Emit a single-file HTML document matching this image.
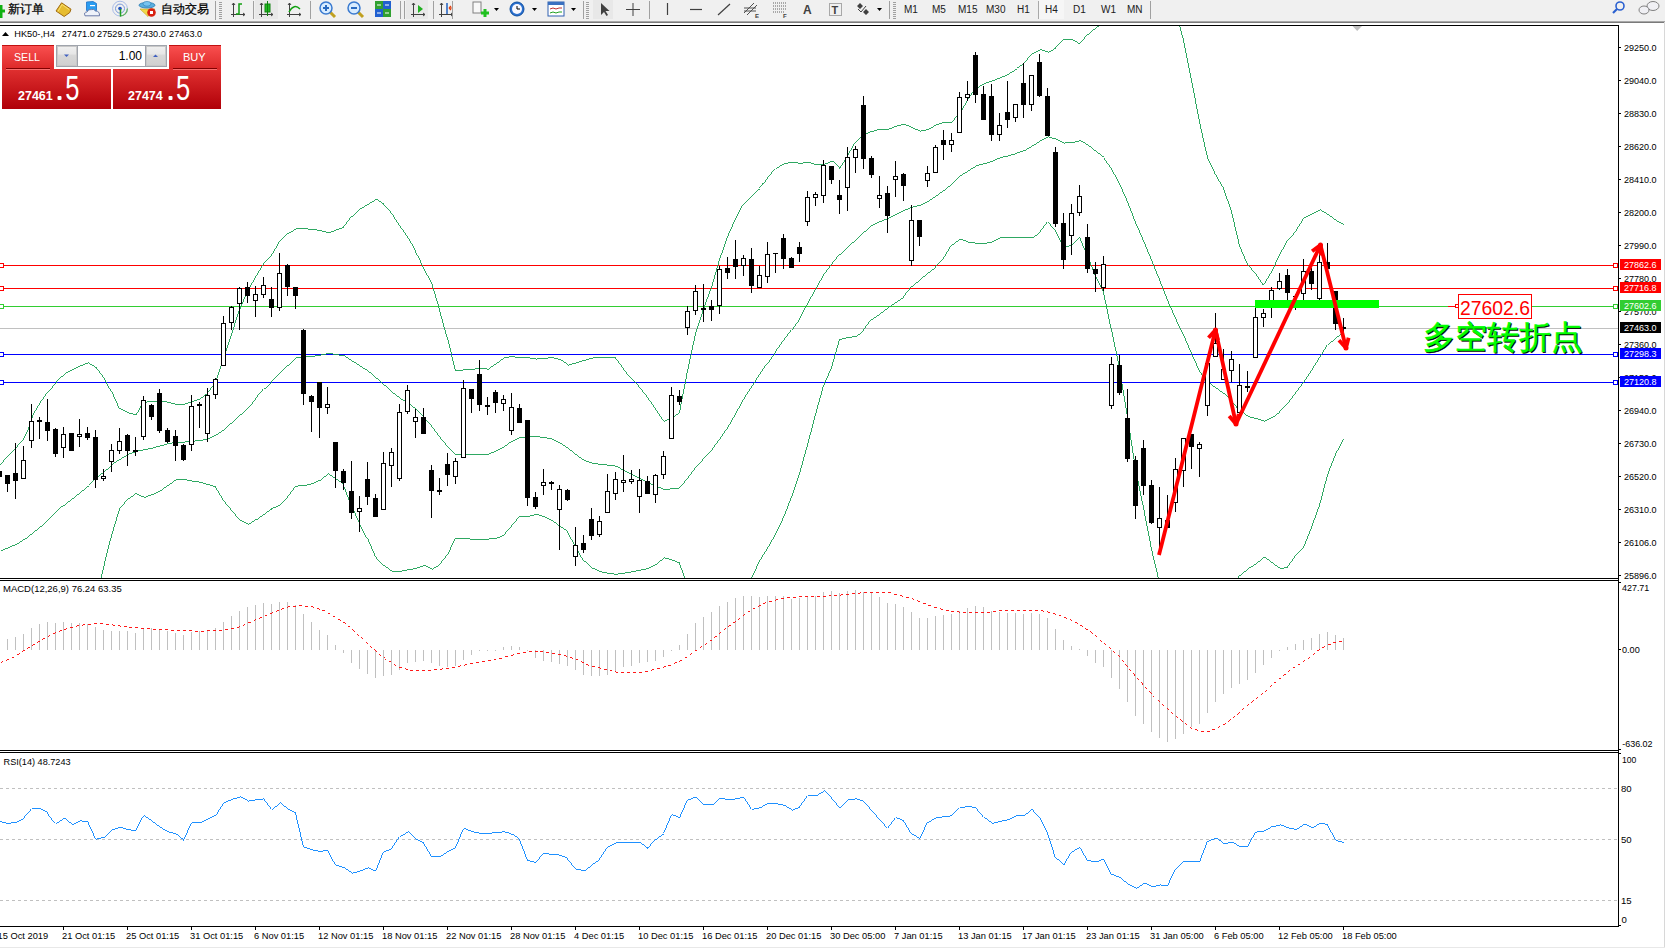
<!DOCTYPE html><html><head><meta charset="utf-8"><style>html,body{margin:0;padding:0;width:1665px;height:948px;overflow:hidden;background:#fff;font-family:"Liberation Sans",sans-serif}</style></head><body><svg width="1665" height="948" viewBox="0 0 1665 948" style="position:absolute;left:0;top:0" font-family="'Liberation Sans', sans-serif">
<rect x="0" y="0" width="1665" height="948" fill="#ffffff"/>
<rect x="0" y="0" width="1665" height="21" fill="#f0f0f0"/>
<rect x="0" y="21" width="1665" height="1" fill="#a8a8a8"/>
<rect x="0" y="22" width="1665" height="1" fill="#7a7a7a"/>
<g><path d="M-3 11h8M1 5v13" stroke="#10b010" stroke-width="3"/><text x="8" y="12.5" font-size="12" fill="#000" stroke="#000" stroke-width="0.25">新订单</text><path d="M56 11 L61.6 2.8 L71 9.2 L69.8 12.5 L64.2 16.5 Z" fill="#e6bc30" stroke="#a06a10" stroke-width="1"/><path d="M58 11.5 L62 4.5 L69 9.5" fill="none" stroke="#f8e070" stroke-width="1"/><path d="M86.5 2 L93 1.5 L96.5 3.5 L96.5 10.5 L86.5 10.5 Z" fill="#2a9cf0" stroke="#1a70c8" stroke-width="0.8"/><rect x="90" y="5" width="5" height="1.2" fill="#fff"/><path d="M85 15.8 Q83.5 12 87 12 Q88 8.8 91.5 9.6 Q94 8.6 95.5 11 Q99.8 11 99.5 15.8 Z" fill="#eef2fa" stroke="#6a7aa8" stroke-width="1"/><circle cx="120" cy="8.6" r="7.4" fill="none" stroke="#a8bce8" stroke-width="1"/><circle cx="120" cy="8.6" r="4.5" fill="none" stroke="#7898d8" stroke-width="1"/><path d="M127.4 8.6 A7.4 7.4 0 0 1 120 16" fill="none" stroke="#60b060" stroke-width="1.2"/><circle cx="120" cy="8.6" r="1.8" fill="#2050c0"/><path d="M120.5 9v7.5" stroke="#20a020" stroke-width="1.5"/><path d="M140 9 L155 9 L148 16.5 Z" fill="#f0d848" stroke="#c0a020" stroke-width="0.6"/><ellipse cx="147" cy="5.2" rx="8" ry="2.8" fill="#5cb0e0" stroke="#2a7ab0" stroke-width="0.8"/><ellipse cx="147" cy="3.8" rx="4" ry="2.4" fill="#78c4f0" stroke="#2a7ab0" stroke-width="0.6"/><circle cx="151.5" cy="12.5" r="4.3" fill="#d82010"/><rect x="150" y="11" width="3" height="3" fill="#fff"/><text x="161" y="12.5" font-size="12" fill="#000" stroke="#000" stroke-width="0.25">自动交易</text><rect x="215" y="1" width="1" height="19" fill="#a0a0a0"/><rect x="219" y="2" width="3" height="1" fill="#a0a0a0"/><rect x="219" y="4" width="3" height="1" fill="#a0a0a0"/><rect x="219" y="6" width="3" height="1" fill="#a0a0a0"/><rect x="219" y="8" width="3" height="1" fill="#a0a0a0"/><rect x="219" y="10" width="3" height="1" fill="#a0a0a0"/><rect x="219" y="12" width="3" height="1" fill="#a0a0a0"/><rect x="219" y="14" width="3" height="1" fill="#a0a0a0"/><rect x="219" y="16" width="3" height="1" fill="#a0a0a0"/><rect x="219" y="18" width="3" height="1" fill="#a0a0a0"/><path d="M233.5 3v14M231 14.5h14M232 5l1.5-2 1.5 2M243 13l2 1.5-2 1.5" fill="none" stroke="#404040" stroke-width="1"/><path d="M236 14h3v-10h3" fill="none" stroke="#10a010" stroke-width="1.5"/><rect x="253" y="1" width="1" height="18" fill="#a0a0a0"/><rect x="255" y="0" width="23" height="19" fill="#e8e8e8"/><path d="M261.5 3v14M259 14.5h14M260 5l1.5-2 1.5 2M271 13l2 1.5-2 1.5" fill="none" stroke="#404040" stroke-width="1"/><rect x="265" y="4" width="5" height="8" fill="#20c020" stroke="#108010"/><path d="M267.5 1v15" stroke="#108010"/><path d="M289.5 3v14M287 14.5h14M288 5l1.5-2 1.5 2M299 13l2 1.5-2 1.5" fill="none" stroke="#404040" stroke-width="1"/><path d="M289 12 Q294 3 300 9" fill="none" stroke="#10a010" stroke-width="1.5"/><rect x="310" y="1" width="1" height="18" fill="#a0a0a0"/><path d="M329 11 l6 6" stroke="#c0a020" stroke-width="3"/><circle cx="326" cy="8" r="6" fill="#d8ecff" stroke="#3a7ad0" stroke-width="1.5"/><path d="M323 8h6" stroke="#2a6ac0" stroke-width="2"/><path d="M326 5v6" stroke="#2a6ac0" stroke-width="2"/><path d="M357 11 l6 6" stroke="#c0a020" stroke-width="3"/><circle cx="354" cy="8" r="6" fill="#d8ecff" stroke="#3a7ad0" stroke-width="1.5"/><path d="M351 8h6" stroke="#2a6ac0" stroke-width="2"/><rect x="375" y="1" width="8" height="8" fill="#30a030"/><rect x="383" y="1" width="8" height="8" fill="#2060d0"/><rect x="375" y="9" width="8" height="8" fill="#2060d0"/><rect x="383" y="9" width="8" height="8" fill="#30a030"/><path d="M377 5h4M385 5h4M377 13h4M385 13h4" stroke="#fff" stroke-width="1"/><rect x="400" y="1" width="1" height="18" fill="#a0a0a0"/><rect x="404" y="1" width="1" height="18" fill="#a0a0a0"/><rect x="406" y="0" width="22" height="19" fill="#e8e8e8"/><path d="M413.5 3v14M411 14.5h14M412 5l1.5-2 1.5 2M423 13l2 1.5-2 1.5" fill="none" stroke="#404040" stroke-width="1"/><path d="M418 5v8l5-4z" fill="#20b020"/><rect x="433" y="1" width="1" height="18" fill="#a0a0a0"/><path d="M441.5 3v14M439 14.5h14M440 5l1.5-2 1.5 2M451 13l2 1.5-2 1.5" fill="none" stroke="#404040" stroke-width="1"/><path d="M447 3v11" stroke="#2060c0" stroke-width="1.5"/><path d="M449 8h4M449 8l2-2M449 8l2 2" stroke="#e04010" stroke-width="1.2"/><rect x="452" y="1" width="1" height="18" fill="#a0a0a0"/><rect x="473" y="2" width="8" height="11" fill="#f8f8f8" stroke="#808080"/><path d="M481 13h8M485 9v8" stroke="#20c020" stroke-width="3"/><path d="M494 8h5l-2.5 3z" fill="#000"/><circle cx="517" cy="9" r="7" fill="#2a70d0" stroke="#1050a0"/><circle cx="517" cy="9" r="5" fill="#f8f8ff"/><path d="M517 6v3h3" stroke="#000" stroke-width="1" fill="none"/><path d="M532 8h5l-2.5 3z" fill="#000"/><rect x="548" y="2" width="16" height="14" fill="#fff" stroke="#3060b0"/><rect x="548" y="2" width="16" height="3" fill="#3a70c0"/><path d="M550 9l3-1 3 1 3-1 3 0" stroke="#c03030" fill="none"/><path d="M550 13l3-1 3 1 3-1 3 0" stroke="#20a020" fill="none"/><path d="M571 8h5l-2.5 3z" fill="#000"/><rect x="583" y="1" width="1" height="18" fill="#a0a0a0"/><rect x="586" y="2" width="3" height="1" fill="#a0a0a0"/><rect x="586" y="4" width="3" height="1" fill="#a0a0a0"/><rect x="586" y="6" width="3" height="1" fill="#a0a0a0"/><rect x="586" y="8" width="3" height="1" fill="#a0a0a0"/><rect x="586" y="10" width="3" height="1" fill="#a0a0a0"/><rect x="586" y="12" width="3" height="1" fill="#a0a0a0"/><rect x="586" y="14" width="3" height="1" fill="#a0a0a0"/><rect x="586" y="16" width="3" height="1" fill="#a0a0a0"/><rect x="586" y="18" width="3" height="1" fill="#a0a0a0"/><rect x="593" y="0" width="20" height="19" fill="#e8e8e8"/><path d="M601 3v12l3-3 2.5 4 1.5-1-2.5-4h4z" fill="#404040"/><path d="M626 9.5h14M633 3v13" stroke="#404040" stroke-width="1"/><rect x="649" y="1" width="1" height="18" fill="#a0a0a0"/><path d="M667.5 3v12" stroke="#404040" stroke-width="1.2"/><path d="M690 9.5h12" stroke="#404040" stroke-width="1.2"/><path d="M718 15l12-11" stroke="#404040" stroke-width="1.2"/><path d="M744 13l10-10M747 15l10-10M744 8h12M744 11h12" stroke="#505050" stroke-width="1"/><text x="755" y="18" font-size="6" font-weight="bold" fill="#404040">E</text><path d="M773 3h14M773 6h14M773 9h14M773 12h11" stroke="#606060" stroke-width="1" stroke-dasharray="1 1"/><text x="783" y="18" font-size="6" font-weight="bold" fill="#404040">F</text><text x="803" y="14" font-size="12" font-weight="bold" fill="#404040">A</text><rect x="829.5" y="3.5" width="12" height="12" fill="none" stroke="#606060" stroke-dasharray="1 1"/><text x="831.5" y="14" font-size="11" font-weight="bold" fill="#404040">T</text><path d="M857 6l3-3 3 3-3 3zM863 12l3-3 3 3-3 3z" fill="#404040"/><path d="M858 9l3 3 5-6" stroke="#404040" fill="none"/><path d="M877 8h5l-2.5 3z" fill="#000"/><rect x="889" y="1" width="1" height="18" fill="#a0a0a0"/><rect x="893" y="2" width="3" height="1" fill="#a0a0a0"/><rect x="893" y="4" width="3" height="1" fill="#a0a0a0"/><rect x="893" y="6" width="3" height="1" fill="#a0a0a0"/><rect x="893" y="8" width="3" height="1" fill="#a0a0a0"/><rect x="893" y="10" width="3" height="1" fill="#a0a0a0"/><rect x="893" y="12" width="3" height="1" fill="#a0a0a0"/><rect x="893" y="14" width="3" height="1" fill="#a0a0a0"/><rect x="893" y="16" width="3" height="1" fill="#a0a0a0"/><rect x="893" y="18" width="3" height="1" fill="#a0a0a0"/><rect x="1039" y="0" width="25" height="19" fill="#f6f6f6"/><text x="904" y="13" font-size="10" fill="#202020">M1</text><text x="932" y="13" font-size="10" fill="#202020">M5</text><text x="958" y="13" font-size="10" fill="#202020">M15</text><text x="986" y="13" font-size="10" fill="#202020">M30</text><text x="1017" y="13" font-size="10" fill="#202020">H1</text><text x="1045" y="13" font-size="10" fill="#202020">H4</text><text x="1073" y="13" font-size="10" fill="#202020">D1</text><text x="1101" y="13" font-size="10" fill="#202020">W1</text><text x="1127" y="13" font-size="10" fill="#202020">MN</text><rect x="1038" y="1" width="1" height="18" fill="#a8a8a8"/><rect x="1150" y="1" width="1" height="18" fill="#a0a0a0"/><circle cx="1620" cy="6" r="4" fill="none" stroke="#2a60d0" stroke-width="1.6"/><path d="M1617 9l-4 4" stroke="#2a60d0" stroke-width="2.2"/><ellipse cx="1653" cy="6" rx="6" ry="4.5" fill="#f0f0f4" stroke="#808080"/><ellipse cx="1644" cy="10" rx="5" ry="4" fill="#f0f0f4" stroke="#808080"/></g>
<g shape-rendering="crispEdges">
<rect x="0" y="25" width="1619" height="1" fill="#000"/>
<rect x="1618" y="25" width="1" height="902" fill="#000"/>
<rect x="0" y="578" width="1619" height="1" fill="#000"/>
<rect x="0" y="580" width="1619" height="1" fill="#000"/>
<rect x="0" y="750" width="1619" height="1" fill="#000"/>
<rect x="0" y="752" width="1619" height="1" fill="#000"/>
<rect x="0" y="926" width="1619" height="1" fill="#000"/>
<rect x="1664" y="22" width="1" height="926" fill="#d8d8d8"/>
<rect x="0" y="947" width="1665" height="1" fill="#e8e8e8"/>
</g>
<defs><clipPath id="cm"><rect x="0" y="26" width="1618" height="552"/></clipPath>
<clipPath id="cmacd"><rect x="0" y="581" width="1618" height="169"/></clipPath>
<clipPath id="crsi"><rect x="0" y="753" width="1618" height="173"/></clipPath></defs>
<g clip-path="url(#cm)">
<g shape-rendering="crispEdges">
<rect x="0" y="265" width="1618" height="1" fill="#ff0000"/>
<rect x="-0.5" y="263.5" width="4" height="4" fill="#fff" stroke="#ff0000" stroke-width="1"/>
<rect x="1613.5" y="263.5" width="4" height="4" fill="#fff" stroke="#ff0000" stroke-width="1"/>
<rect x="0" y="288" width="1618" height="1" fill="#ff0000"/>
<rect x="-0.5" y="286.5" width="4" height="4" fill="#fff" stroke="#ff0000" stroke-width="1"/>
<rect x="1613.5" y="286.5" width="4" height="4" fill="#fff" stroke="#ff0000" stroke-width="1"/>
<rect x="0" y="306" width="1618" height="1" fill="#32cd32"/>
<rect x="-0.5" y="304.5" width="4" height="4" fill="#fff" stroke="#32cd32" stroke-width="1"/>
<rect x="1613.5" y="304.5" width="4" height="4" fill="#fff" stroke="#32cd32" stroke-width="1"/>
<rect x="0" y="328" width="1618" height="1" fill="#c0c0c0"/>
<rect x="0" y="354" width="1618" height="1" fill="#0000ff"/>
<rect x="-0.5" y="352.5" width="4" height="4" fill="#fff" stroke="#0000ff" stroke-width="1"/>
<rect x="1613.5" y="352.5" width="4" height="4" fill="#fff" stroke="#0000ff" stroke-width="1"/>
<rect x="0" y="382" width="1618" height="1" fill="#0000ff"/>
<rect x="-0.5" y="380.5" width="4" height="4" fill="#fff" stroke="#0000ff" stroke-width="1"/>
<rect x="1613.5" y="380.5" width="4" height="4" fill="#fff" stroke="#0000ff" stroke-width="1"/>
</g>
<polyline points="0.5,464.5 8.1,455.7 15.7,448.1 23.3,439.2 28.3,429.1 33.5,413.9 41.0,401.3 48.5,391.1 58.5,378.5 66.5,372.1 76.5,367.1 87.5,362.8 96.5,368.3 104.5,378.5 111.5,391.1 119.5,408.9 127.0,412.7 135.9,414.5 142.3,402.5 151.5,401.6 159.5,400.8 167.5,402.4 175.5,404.3 183.5,404.3 191.5,401.5 199.5,398.7 207.5,392.7 215.5,382.8 223.5,358.2 231.5,334.2 239.5,309.7 247.5,291.3 255.5,277.2 263.5,263.7 271.5,255.2 279.5,241.6 287.5,233.4 295.5,228.7 303.5,228.8 311.5,229.3 319.5,230.5 327.5,232.9 335.5,229.9 343.5,226.9 351.5,216.4 359.5,208.8 367.5,204.1 375.5,199.3 383.5,204.4 391.5,213.1 399.5,225.6 407.5,236.7 415.5,250.5 423.5,268.2 431.5,282.8 439.5,309.5 447.5,338.1 455.5,370.9 463.5,369.8 471.5,369.2 479.5,368.6 487.5,369.1 495.5,363.4 503.5,357.9 511.5,356.6 519.5,357.9 527.5,357.8 535.5,359.1 543.5,358.3 551.5,357.6 559.5,359.6 567.5,365.0 575.5,362.8 583.5,360.3 591.5,358.0 599.5,357.0 607.5,357.3 615.5,358.0 623.5,368.5 631.5,378.0 639.5,387.2 647.5,397.4 655.5,409.0 663.5,421.1 671.5,417.4 679.5,412.1 687.5,370.9 695.5,333.9 703.5,308.9 711.5,287.4 719.5,259.7 727.5,236.9 735.5,218.8 743.5,203.6 751.5,195.7 759.5,188.1 767.5,177.5 775.5,168.6 783.5,163.4 791.5,162.4 799.5,163.3 807.5,162.4 815.5,164.8 823.5,164.4 831.5,161.0 839.5,168.9 847.5,155.8 855.5,141.9 863.5,134.1 871.5,131.3 879.5,129.1 887.5,129.4 895.5,126.0 903.5,124.1 911.5,127.9 919.5,131.0 927.5,129.5 935.5,124.8 943.5,122.1 951.5,122.7 959.5,112.9 967.5,99.5 975.5,88.3 983.5,83.6 991.5,80.8 999.5,77.8 1007.5,74.3 1015.5,69.1 1023.5,64.0 1031.5,53.9 1039.5,49.6 1047.5,52.3 1055.5,47.9 1063.5,39.2 1071.5,39.9 1079.5,44.1 1087.5,34.4 1095.5,27.3 1103.5,24.0 1111.5,8.0 1119.5,-0.8 1127.5,-13.4 1135.5,-24.4 1143.5,-26.5 1151.5,-29.1 1159.5,-23.4 1167.5,-12.1 1175.5,11.3 1183.5,40.0 1191.5,80.2 1199.5,122.0 1207.5,157.7 1215.5,174.6 1223.5,188.1 1231.5,211.9 1239.5,245.7 1247.5,264.4 1255.5,273.7 1263.5,285.3 1271.5,272.0 1279.5,255.1 1287.5,240.2 1295.5,230.5 1303.5,217.5 1311.5,213.6 1319.5,209.9 1327.5,214.6 1335.5,220.5 1343.5,224.6" fill="none" stroke="#179e51" stroke-width="0.9" shape-rendering="crispEdges"/>
<polyline points="0.5,550.5 15.5,544.3 25.5,538.0 38.5,527.8 51.1,516.5 63.5,505.1 76.5,494.9 89.1,484.8 101.5,473.4 114.5,462.0 127.1,454.5 139.5,450.5 151.5,448.1 159.5,445.8 167.5,443.7 175.5,442.0 183.5,442.0 191.5,441.2 199.5,440.5 207.5,438.7 215.5,434.9 223.5,429.4 231.5,422.2 239.5,414.9 247.5,407.8 255.5,398.5 263.5,388.9 271.5,381.8 279.5,373.4 287.5,365.2 295.5,357.4 303.5,357.1 311.5,356.4 319.5,355.2 327.5,353.3 335.5,354.6 343.5,355.7 351.5,361.0 359.5,366.1 367.5,371.2 375.5,378.1 383.5,385.1 391.5,392.3 399.5,398.5 407.5,403.2 415.5,409.4 423.5,416.9 431.5,426.0 439.5,436.9 447.5,446.4 455.5,454.6 463.5,454.3 471.5,454.1 479.5,454.0 487.5,454.1 495.5,450.8 503.5,446.6 511.5,441.4 519.5,437.1 527.5,437.1 535.5,436.6 543.5,437.6 551.5,439.2 559.5,443.1 567.5,448.5 575.5,454.9 583.5,460.7 591.5,463.0 599.5,464.4 607.5,465.2 615.5,466.2 623.5,470.8 631.5,474.8 639.5,478.6 647.5,482.9 655.5,486.6 663.5,489.4 671.5,488.8 679.5,487.8 687.5,478.4 695.5,467.6 703.5,458.9 711.5,450.2 719.5,439.3 727.5,427.9 735.5,414.0 743.5,399.4 751.5,386.9 759.5,374.6 767.5,362.8 775.5,351.5 783.5,340.4 791.5,329.8 799.5,318.5 807.5,303.6 815.5,289.6 823.5,275.1 831.5,264.3 839.5,254.2 847.5,246.5 855.5,239.4 863.5,231.9 871.5,225.1 879.5,221.4 887.5,218.5 895.5,214.0 903.5,210.4 911.5,207.1 919.5,205.2 927.5,201.2 935.5,195.8 943.5,190.1 951.5,183.8 959.5,175.9 967.5,170.8 975.5,165.8 983.5,163.6 991.5,161.3 999.5,157.6 1007.5,155.8 1015.5,153.5 1023.5,150.8 1031.5,145.9 1039.5,140.9 1047.5,136.9 1055.5,139.3 1063.5,143.0 1071.5,142.7 1079.5,140.6 1087.5,145.4 1095.5,151.7 1103.5,157.7 1111.5,168.9 1119.5,183.7 1127.5,201.9 1135.5,222.4 1143.5,240.7 1151.5,260.1 1159.5,279.7 1167.5,300.1 1175.5,318.4 1183.5,335.0 1191.5,353.6 1199.5,371.0 1207.5,382.4 1215.5,388.3 1223.5,393.8 1231.5,401.1 1239.5,410.6 1247.5,416.5 1255.5,418.7 1263.5,421.1 1271.5,417.4 1279.5,411.9 1287.5,403.6 1295.5,393.1 1303.5,382.4 1311.5,370.4 1319.5,357.6 1327.5,344.7 1335.5,337.4 1343.5,331.9" fill="none" stroke="#179e51" stroke-width="0.9" shape-rendering="crispEdges"/>
<polyline points="100.5,580.5 109.4,543.0 119.5,508.9 127.1,500.0 135.9,493.7 144.8,497.5 151.5,494.7 159.5,490.8 167.5,485.1 175.5,479.6 183.5,479.6 191.5,481.0 199.5,482.2 207.5,484.7 215.5,487.0 223.5,500.6 231.5,510.1 239.5,520.1 247.5,524.2 255.5,519.8 263.5,514.1 271.5,508.3 279.5,505.2 287.5,497.0 295.5,486.1 303.5,485.5 311.5,483.5 319.5,480.0 327.5,473.8 335.5,479.2 343.5,484.5 351.5,505.6 359.5,523.5 367.5,538.3 375.5,556.9 383.5,565.7 391.5,571.6 399.5,571.4 407.5,569.8 415.5,568.3 423.5,565.5 431.5,569.2 439.5,564.4 447.5,554.6 455.5,538.3 463.5,538.8 471.5,539.1 479.5,539.3 487.5,539.1 495.5,538.1 503.5,535.3 511.5,526.1 519.5,516.2 527.5,516.5 535.5,514.2 543.5,516.9 551.5,520.8 559.5,526.5 567.5,532.0 575.5,547.1 583.5,561.1 591.5,568.0 599.5,571.8 607.5,573.2 615.5,574.3 623.5,573.1 631.5,571.7 639.5,570.0 647.5,568.5 655.5,564.1 663.5,557.7 671.5,560.2 679.5,563.4 687.5,585.9 695.5,601.3 703.5,609.0 711.5,613.1 719.5,618.8 727.5,618.9 735.5,609.2 743.5,595.3 751.5,578.1 759.5,561.2 767.5,548.1 775.5,534.4 783.5,517.4 791.5,497.2 799.5,473.6 807.5,444.9 815.5,414.4 823.5,385.7 831.5,367.6 839.5,339.4 847.5,337.2 855.5,336.8 863.5,329.6 871.5,319.0 879.5,313.7 887.5,307.7 895.5,302.0 903.5,296.7 911.5,286.4 919.5,279.4 927.5,272.8 935.5,266.8 943.5,258.1 951.5,244.9 959.5,239.0 967.5,242.1 975.5,243.3 983.5,243.6 991.5,241.8 999.5,237.5 1007.5,237.2 1015.5,237.9 1023.5,237.7 1031.5,237.8 1039.5,232.3 1047.5,221.6 1055.5,230.7 1063.5,246.8 1071.5,245.4 1079.5,237.2 1087.5,256.3 1095.5,276.1 1103.5,291.5 1111.5,329.8 1119.5,368.2 1127.5,417.2 1135.5,469.2 1143.5,507.9 1151.5,549.2 1159.5,582.8 1167.5,612.3 1175.5,625.4 1183.5,630.0 1191.5,626.9 1199.5,619.9 1207.5,607.0 1215.5,602.0 1223.5,599.5 1231.5,590.4 1239.5,575.4 1247.5,568.6 1255.5,563.6 1263.5,557.0 1271.5,562.9 1279.5,568.7 1287.5,566.9 1295.5,555.7 1303.5,547.3 1311.5,527.3 1319.5,505.4 1327.5,474.8 1335.5,454.3 1343.5,439.2" fill="none" stroke="#179e51" stroke-width="0.9" shape-rendering="crispEdges"/>
<g shape-rendering="crispEdges">
<rect x="-1" y="471" width="1" height="6" fill="#000"/>
<rect x="-3" y="471" width="5" height="6" fill="#000"/>
<rect x="7" y="475" width="1" height="17" fill="#000"/>
<rect x="5" y="475" width="5" height="9" fill="#000"/>
<rect x="15" y="443" width="1" height="56" fill="#000"/>
<rect x="13" y="473" width="5" height="8" fill="#000"/>
<rect x="23" y="446" width="1" height="33" fill="#000"/>
<rect x="21.5" y="460.5" width="4" height="18" fill="#fff" stroke="#000" stroke-width="1"/>
<rect x="31" y="404" width="1" height="44" fill="#000"/>
<rect x="29.5" y="421.5" width="4" height="19" fill="#fff" stroke="#000" stroke-width="1"/>
<rect x="39" y="417" width="1" height="22" fill="#000"/>
<rect x="37" y="420" width="5" height="2" fill="#000"/>
<rect x="47" y="399" width="1" height="42" fill="#000"/>
<rect x="45" y="422" width="5" height="9" fill="#000"/>
<rect x="55" y="428" width="1" height="29" fill="#000"/>
<rect x="53" y="429" width="5" height="25" fill="#000"/>
<rect x="63" y="427" width="1" height="31" fill="#000"/>
<rect x="61.5" y="434.5" width="4" height="13" fill="#fff" stroke="#000" stroke-width="1"/>
<rect x="71" y="433" width="1" height="18" fill="#000"/>
<rect x="69" y="433" width="5" height="18" fill="#000"/>
<rect x="79" y="419" width="1" height="28" fill="#000"/>
<rect x="77.5" y="434.5" width="4" height="2" fill="#fff" stroke="#000" stroke-width="1"/>
<rect x="87" y="427" width="1" height="13" fill="#000"/>
<rect x="85" y="433" width="5" height="5" fill="#000"/>
<rect x="95" y="430" width="1" height="58" fill="#000"/>
<rect x="93" y="437" width="5" height="43" fill="#000"/>
<rect x="103" y="469" width="1" height="12" fill="#000"/>
<rect x="101.5" y="476.5" width="4" height="2" fill="#fff" stroke="#000" stroke-width="1"/>
<rect x="111" y="444" width="1" height="28" fill="#000"/>
<rect x="109.5" y="450.5" width="4" height="11" fill="#fff" stroke="#000" stroke-width="1"/>
<rect x="119" y="428" width="1" height="26" fill="#000"/>
<rect x="117.5" y="441.5" width="4" height="9" fill="#fff" stroke="#000" stroke-width="1"/>
<rect x="127" y="434" width="1" height="32" fill="#000"/>
<rect x="125" y="435" width="5" height="16" fill="#000"/>
<rect x="135" y="437" width="1" height="19" fill="#000"/>
<rect x="133" y="450" width="5" height="2" fill="#000"/>
<rect x="143" y="396" width="1" height="44" fill="#000"/>
<rect x="141.5" y="400.5" width="4" height="36" fill="#fff" stroke="#000" stroke-width="1"/>
<rect x="151" y="404" width="1" height="16" fill="#000"/>
<rect x="149" y="405" width="5" height="12" fill="#000"/>
<rect x="159" y="389" width="1" height="44" fill="#000"/>
<rect x="157" y="393" width="5" height="38" fill="#000"/>
<rect x="167" y="428" width="1" height="15" fill="#000"/>
<rect x="165" y="430" width="5" height="12" fill="#000"/>
<rect x="175" y="430" width="1" height="31" fill="#000"/>
<rect x="173" y="436" width="5" height="10" fill="#000"/>
<rect x="183" y="444" width="1" height="17" fill="#000"/>
<rect x="181" y="445" width="5" height="15" fill="#000"/>
<rect x="191" y="395" width="1" height="56" fill="#000"/>
<rect x="189.5" y="406.5" width="4" height="38" fill="#fff" stroke="#000" stroke-width="1"/>
<rect x="199" y="402" width="1" height="26" fill="#000"/>
<rect x="197" y="404" width="5" height="2" fill="#000"/>
<rect x="207" y="388" width="1" height="54" fill="#000"/>
<rect x="205.5" y="395.5" width="4" height="38" fill="#fff" stroke="#000" stroke-width="1"/>
<rect x="215" y="378" width="1" height="21" fill="#000"/>
<rect x="213.5" y="379.5" width="4" height="15" fill="#fff" stroke="#000" stroke-width="1"/>
<rect x="223" y="316" width="1" height="50" fill="#000"/>
<rect x="221.5" y="323.5" width="4" height="42" fill="#fff" stroke="#000" stroke-width="1"/>
<rect x="231" y="306" width="1" height="24" fill="#000"/>
<rect x="229.5" y="307.5" width="4" height="15" fill="#fff" stroke="#000" stroke-width="1"/>
<rect x="239" y="287" width="1" height="43" fill="#000"/>
<rect x="237.5" y="288.5" width="4" height="15" fill="#fff" stroke="#000" stroke-width="1"/>
<rect x="247" y="282" width="1" height="21" fill="#000"/>
<rect x="245" y="287" width="5" height="9" fill="#000"/>
<rect x="255" y="286" width="1" height="31" fill="#000"/>
<rect x="253.5" y="294.5" width="4" height="6" fill="#fff" stroke="#000" stroke-width="1"/>
<rect x="263" y="277" width="1" height="21" fill="#000"/>
<rect x="261.5" y="285.5" width="4" height="9" fill="#fff" stroke="#000" stroke-width="1"/>
<rect x="271" y="287" width="1" height="30" fill="#000"/>
<rect x="269" y="299" width="5" height="9" fill="#000"/>
<rect x="279" y="253" width="1" height="58" fill="#000"/>
<rect x="277.5" y="273.5" width="4" height="34" fill="#fff" stroke="#000" stroke-width="1"/>
<rect x="287" y="264" width="1" height="32" fill="#000"/>
<rect x="285" y="265" width="5" height="22" fill="#000"/>
<rect x="295" y="287" width="1" height="22" fill="#000"/>
<rect x="293" y="287" width="5" height="9" fill="#000"/>
<rect x="303" y="329" width="1" height="76" fill="#000"/>
<rect x="301" y="330" width="5" height="64" fill="#000"/>
<rect x="311" y="395" width="1" height="37" fill="#000"/>
<rect x="309" y="396" width="5" height="6" fill="#000"/>
<rect x="319" y="382" width="1" height="56" fill="#000"/>
<rect x="317" y="382" width="5" height="26" fill="#000"/>
<rect x="327" y="387" width="1" height="27" fill="#000"/>
<rect x="325.5" y="404.5" width="4" height="3" fill="#fff" stroke="#000" stroke-width="1"/>
<rect x="335" y="442" width="1" height="46" fill="#000"/>
<rect x="333" y="442" width="5" height="29" fill="#000"/>
<rect x="343" y="469" width="1" height="21" fill="#000"/>
<rect x="341" y="471" width="5" height="12" fill="#000"/>
<rect x="351" y="461" width="1" height="58" fill="#000"/>
<rect x="349" y="491" width="5" height="22" fill="#000"/>
<rect x="359" y="496" width="1" height="36" fill="#000"/>
<rect x="357.5" y="508.5" width="4" height="3" fill="#fff" stroke="#000" stroke-width="1"/>
<rect x="367" y="462" width="1" height="43" fill="#000"/>
<rect x="365" y="479" width="5" height="18" fill="#000"/>
<rect x="375" y="494" width="1" height="23" fill="#000"/>
<rect x="373" y="498" width="5" height="19" fill="#000"/>
<rect x="383" y="452" width="1" height="58" fill="#000"/>
<rect x="381.5" y="463.5" width="4" height="46" fill="#fff" stroke="#000" stroke-width="1"/>
<rect x="391" y="448" width="1" height="39" fill="#000"/>
<rect x="389.5" y="452.5" width="4" height="13" fill="#fff" stroke="#000" stroke-width="1"/>
<rect x="399" y="404" width="1" height="77" fill="#000"/>
<rect x="397.5" y="412.5" width="4" height="66" fill="#fff" stroke="#000" stroke-width="1"/>
<rect x="407" y="385" width="1" height="29" fill="#000"/>
<rect x="405.5" y="390.5" width="4" height="21" fill="#fff" stroke="#000" stroke-width="1"/>
<rect x="415" y="409" width="1" height="29" fill="#000"/>
<rect x="413.5" y="417.5" width="4" height="4" fill="#fff" stroke="#000" stroke-width="1"/>
<rect x="423" y="408" width="1" height="26" fill="#000"/>
<rect x="421" y="417" width="5" height="17" fill="#000"/>
<rect x="431" y="465" width="1" height="53" fill="#000"/>
<rect x="429" y="470" width="5" height="21" fill="#000"/>
<rect x="439" y="478" width="1" height="17" fill="#000"/>
<rect x="437" y="490" width="5" height="2" fill="#000"/>
<rect x="447" y="453" width="1" height="33" fill="#000"/>
<rect x="445" y="464" width="5" height="11" fill="#000"/>
<rect x="455" y="458" width="1" height="26" fill="#000"/>
<rect x="453.5" y="461.5" width="4" height="15" fill="#fff" stroke="#000" stroke-width="1"/>
<rect x="463" y="380" width="1" height="78" fill="#000"/>
<rect x="461.5" y="388.5" width="4" height="69" fill="#fff" stroke="#000" stroke-width="1"/>
<rect x="471" y="389" width="1" height="24" fill="#000"/>
<rect x="469" y="389" width="5" height="10" fill="#000"/>
<rect x="479" y="360" width="1" height="51" fill="#000"/>
<rect x="477" y="374" width="5" height="31" fill="#000"/>
<rect x="487" y="397" width="1" height="18" fill="#000"/>
<rect x="485" y="405" width="5" height="2" fill="#000"/>
<rect x="495" y="390" width="1" height="23" fill="#000"/>
<rect x="493" y="392" width="5" height="11" fill="#000"/>
<rect x="503" y="395" width="1" height="16" fill="#000"/>
<rect x="501.5" y="399.5" width="4" height="4" fill="#fff" stroke="#000" stroke-width="1"/>
<rect x="511" y="393" width="1" height="42" fill="#000"/>
<rect x="509.5" y="407.5" width="4" height="23" fill="#fff" stroke="#000" stroke-width="1"/>
<rect x="519" y="404" width="1" height="19" fill="#000"/>
<rect x="517" y="408" width="5" height="15" fill="#000"/>
<rect x="527" y="420" width="1" height="86" fill="#000"/>
<rect x="525" y="420" width="5" height="78" fill="#000"/>
<rect x="535" y="492" width="1" height="17" fill="#000"/>
<rect x="533" y="497" width="5" height="10" fill="#000"/>
<rect x="543" y="469" width="1" height="26" fill="#000"/>
<rect x="541.5" y="482.5" width="4" height="3" fill="#fff" stroke="#000" stroke-width="1"/>
<rect x="551" y="481" width="1" height="9" fill="#000"/>
<rect x="549" y="482" width="5" height="2" fill="#000"/>
<rect x="559" y="485" width="1" height="65" fill="#000"/>
<rect x="557.5" y="489.5" width="4" height="20" fill="#fff" stroke="#000" stroke-width="1"/>
<rect x="567" y="489" width="1" height="12" fill="#000"/>
<rect x="565" y="490" width="5" height="10" fill="#000"/>
<rect x="575" y="527" width="1" height="39" fill="#000"/>
<rect x="573.5" y="545.5" width="4" height="11" fill="#fff" stroke="#000" stroke-width="1"/>
<rect x="583" y="535" width="1" height="18" fill="#000"/>
<rect x="581" y="543" width="5" height="7" fill="#000"/>
<rect x="591" y="508" width="1" height="32" fill="#000"/>
<rect x="589" y="519" width="5" height="17" fill="#000"/>
<rect x="599" y="516" width="1" height="21" fill="#000"/>
<rect x="597.5" y="521.5" width="4" height="13" fill="#fff" stroke="#000" stroke-width="1"/>
<rect x="607" y="474" width="1" height="39" fill="#000"/>
<rect x="605.5" y="491.5" width="4" height="21" fill="#fff" stroke="#000" stroke-width="1"/>
<rect x="615" y="472" width="1" height="28" fill="#000"/>
<rect x="613.5" y="479.5" width="4" height="14" fill="#fff" stroke="#000" stroke-width="1"/>
<rect x="623" y="455" width="1" height="37" fill="#000"/>
<rect x="621.5" y="480.5" width="4" height="2" fill="#fff" stroke="#000" stroke-width="1"/>
<rect x="631" y="470" width="1" height="14" fill="#000"/>
<rect x="629.5" y="479.5" width="4" height="2" fill="#fff" stroke="#000" stroke-width="1"/>
<rect x="639" y="469" width="1" height="44" fill="#000"/>
<rect x="637.5" y="480.5" width="4" height="16" fill="#fff" stroke="#000" stroke-width="1"/>
<rect x="647" y="476" width="1" height="18" fill="#000"/>
<rect x="645" y="481" width="5" height="13" fill="#000"/>
<rect x="655" y="474" width="1" height="29" fill="#000"/>
<rect x="653.5" y="475.5" width="4" height="19" fill="#fff" stroke="#000" stroke-width="1"/>
<rect x="663" y="451" width="1" height="28" fill="#000"/>
<rect x="661.5" y="456.5" width="4" height="18" fill="#fff" stroke="#000" stroke-width="1"/>
<rect x="671" y="387" width="1" height="52" fill="#000"/>
<rect x="669.5" y="395.5" width="4" height="43" fill="#fff" stroke="#000" stroke-width="1"/>
<rect x="679" y="390" width="1" height="15" fill="#000"/>
<rect x="677" y="396" width="5" height="6" fill="#000"/>
<rect x="687" y="306" width="1" height="29" fill="#000"/>
<rect x="685.5" y="311.5" width="4" height="16" fill="#fff" stroke="#000" stroke-width="1"/>
<rect x="695" y="285" width="1" height="30" fill="#000"/>
<rect x="693.5" y="291.5" width="4" height="19" fill="#fff" stroke="#000" stroke-width="1"/>
<rect x="703" y="284" width="1" height="38" fill="#000"/>
<rect x="701" y="308" width="5" height="2" fill="#000"/>
<rect x="711" y="300" width="1" height="21" fill="#000"/>
<rect x="709" y="306" width="5" height="4" fill="#000"/>
<rect x="719" y="266" width="1" height="48" fill="#000"/>
<rect x="717.5" y="269.5" width="4" height="36" fill="#fff" stroke="#000" stroke-width="1"/>
<rect x="727" y="257" width="1" height="22" fill="#000"/>
<rect x="725" y="268" width="5" height="5" fill="#000"/>
<rect x="735" y="240" width="1" height="39" fill="#000"/>
<rect x="733" y="259" width="5" height="8" fill="#000"/>
<rect x="743" y="255" width="1" height="21" fill="#000"/>
<rect x="741.5" y="258.5" width="4" height="7" fill="#fff" stroke="#000" stroke-width="1"/>
<rect x="751" y="248" width="1" height="45" fill="#000"/>
<rect x="749" y="259" width="5" height="27" fill="#000"/>
<rect x="759" y="266" width="1" height="22" fill="#000"/>
<rect x="757.5" y="275.5" width="4" height="12" fill="#fff" stroke="#000" stroke-width="1"/>
<rect x="767" y="242" width="1" height="41" fill="#000"/>
<rect x="765.5" y="254.5" width="4" height="22" fill="#fff" stroke="#000" stroke-width="1"/>
<rect x="775" y="253" width="1" height="20" fill="#000"/>
<rect x="773" y="253" width="5" height="1" fill="#000"/>
<rect x="783" y="234" width="1" height="35" fill="#000"/>
<rect x="781" y="238" width="5" height="21" fill="#000"/>
<rect x="791" y="257" width="1" height="11" fill="#000"/>
<rect x="789" y="258" width="5" height="10" fill="#000"/>
<rect x="799" y="242" width="1" height="20" fill="#000"/>
<rect x="797" y="247" width="5" height="7" fill="#000"/>
<rect x="807" y="191" width="1" height="35" fill="#000"/>
<rect x="805.5" y="197.5" width="4" height="24" fill="#fff" stroke="#000" stroke-width="1"/>
<rect x="815" y="192" width="1" height="14" fill="#000"/>
<rect x="813.5" y="194.5" width="4" height="3" fill="#fff" stroke="#000" stroke-width="1"/>
<rect x="823" y="160" width="1" height="43" fill="#000"/>
<rect x="821.5" y="165.5" width="4" height="30" fill="#fff" stroke="#000" stroke-width="1"/>
<rect x="831" y="166" width="1" height="18" fill="#000"/>
<rect x="829" y="166" width="5" height="14" fill="#000"/>
<rect x="839" y="180" width="1" height="34" fill="#000"/>
<rect x="837" y="195" width="5" height="5" fill="#000"/>
<rect x="847" y="147" width="1" height="64" fill="#000"/>
<rect x="845.5" y="157.5" width="4" height="30" fill="#fff" stroke="#000" stroke-width="1"/>
<rect x="855" y="146" width="1" height="27" fill="#000"/>
<rect x="853.5" y="149.5" width="4" height="8" fill="#fff" stroke="#000" stroke-width="1"/>
<rect x="863" y="96" width="1" height="73" fill="#000"/>
<rect x="861" y="105" width="5" height="54" fill="#000"/>
<rect x="871" y="156" width="1" height="22" fill="#000"/>
<rect x="869" y="158" width="5" height="17" fill="#000"/>
<rect x="879" y="176" width="1" height="32" fill="#000"/>
<rect x="877.5" y="195.5" width="4" height="3" fill="#fff" stroke="#000" stroke-width="1"/>
<rect x="887" y="186" width="1" height="47" fill="#000"/>
<rect x="885" y="193" width="5" height="23" fill="#000"/>
<rect x="895" y="161" width="1" height="36" fill="#000"/>
<rect x="893.5" y="176.5" width="4" height="3" fill="#fff" stroke="#000" stroke-width="1"/>
<rect x="903" y="173" width="1" height="28" fill="#000"/>
<rect x="901" y="174" width="5" height="12" fill="#000"/>
<rect x="911" y="205" width="1" height="61" fill="#000"/>
<rect x="909.5" y="220.5" width="4" height="40" fill="#fff" stroke="#000" stroke-width="1"/>
<rect x="919" y="220" width="1" height="26" fill="#000"/>
<rect x="917" y="220" width="5" height="17" fill="#000"/>
<rect x="927" y="166" width="1" height="21" fill="#000"/>
<rect x="925.5" y="173.5" width="4" height="7" fill="#fff" stroke="#000" stroke-width="1"/>
<rect x="935" y="145" width="1" height="28" fill="#000"/>
<rect x="933.5" y="147.5" width="4" height="25" fill="#fff" stroke="#000" stroke-width="1"/>
<rect x="943" y="130" width="1" height="30" fill="#000"/>
<rect x="941" y="140" width="5" height="5" fill="#000"/>
<rect x="951" y="133" width="1" height="19" fill="#000"/>
<rect x="949.5" y="140.5" width="4" height="4" fill="#fff" stroke="#000" stroke-width="1"/>
<rect x="959" y="92" width="1" height="41" fill="#000"/>
<rect x="957.5" y="97.5" width="4" height="35" fill="#fff" stroke="#000" stroke-width="1"/>
<rect x="967" y="81" width="1" height="20" fill="#000"/>
<rect x="965.5" y="94.5" width="4" height="3" fill="#fff" stroke="#000" stroke-width="1"/>
<rect x="975" y="52" width="1" height="51" fill="#000"/>
<rect x="973" y="55" width="5" height="40" fill="#000"/>
<rect x="983" y="86" width="1" height="34" fill="#000"/>
<rect x="981" y="94" width="5" height="26" fill="#000"/>
<rect x="991" y="84" width="1" height="57" fill="#000"/>
<rect x="989" y="96" width="5" height="39" fill="#000"/>
<rect x="999" y="113" width="1" height="28" fill="#000"/>
<rect x="997.5" y="125.5" width="4" height="9" fill="#fff" stroke="#000" stroke-width="1"/>
<rect x="1007" y="81" width="1" height="47" fill="#000"/>
<rect x="1005" y="112" width="5" height="8" fill="#000"/>
<rect x="1015" y="104" width="1" height="18" fill="#000"/>
<rect x="1013.5" y="104.5" width="4" height="13" fill="#fff" stroke="#000" stroke-width="1"/>
<rect x="1023" y="63" width="1" height="55" fill="#000"/>
<rect x="1021" y="83" width="5" height="22" fill="#000"/>
<rect x="1031" y="75" width="1" height="36" fill="#000"/>
<rect x="1029.5" y="75.5" width="4" height="29" fill="#fff" stroke="#000" stroke-width="1"/>
<rect x="1039" y="54" width="1" height="43" fill="#000"/>
<rect x="1037" y="62" width="5" height="34" fill="#000"/>
<rect x="1047" y="88" width="1" height="48" fill="#000"/>
<rect x="1045" y="96" width="5" height="40" fill="#000"/>
<rect x="1055" y="147" width="1" height="80" fill="#000"/>
<rect x="1053" y="152" width="5" height="72" fill="#000"/>
<rect x="1063" y="213" width="1" height="56" fill="#000"/>
<rect x="1061" y="223" width="5" height="37" fill="#000"/>
<rect x="1071" y="204" width="1" height="51" fill="#000"/>
<rect x="1069.5" y="213.5" width="4" height="22" fill="#fff" stroke="#000" stroke-width="1"/>
<rect x="1079" y="185" width="1" height="31" fill="#000"/>
<rect x="1077.5" y="196.5" width="4" height="16" fill="#fff" stroke="#000" stroke-width="1"/>
<rect x="1087" y="224" width="1" height="49" fill="#000"/>
<rect x="1085" y="237" width="5" height="32" fill="#000"/>
<rect x="1095" y="262" width="1" height="30" fill="#000"/>
<rect x="1093" y="269" width="5" height="5" fill="#000"/>
<rect x="1103" y="256" width="1" height="35" fill="#000"/>
<rect x="1101.5" y="264.5" width="4" height="23" fill="#fff" stroke="#000" stroke-width="1"/>
<rect x="1111" y="357" width="1" height="52" fill="#000"/>
<rect x="1109.5" y="364.5" width="4" height="41" fill="#fff" stroke="#000" stroke-width="1"/>
<rect x="1119" y="355" width="1" height="40" fill="#000"/>
<rect x="1117" y="365" width="5" height="28" fill="#000"/>
<rect x="1127" y="389" width="1" height="73" fill="#000"/>
<rect x="1125" y="418" width="5" height="41" fill="#000"/>
<rect x="1135" y="456" width="1" height="63" fill="#000"/>
<rect x="1133" y="460" width="5" height="46" fill="#000"/>
<rect x="1143" y="440" width="1" height="55" fill="#000"/>
<rect x="1141" y="448" width="5" height="38" fill="#000"/>
<rect x="1151" y="480" width="1" height="44" fill="#000"/>
<rect x="1149" y="485" width="5" height="38" fill="#000"/>
<rect x="1159" y="487" width="1" height="62" fill="#000"/>
<rect x="1157.5" y="518.5" width="4" height="9" fill="#fff" stroke="#000" stroke-width="1"/>
<rect x="1167" y="495" width="1" height="33" fill="#000"/>
<rect x="1165" y="520" width="5" height="8" fill="#000"/>
<rect x="1175" y="458" width="1" height="54" fill="#000"/>
<rect x="1173.5" y="469.5" width="4" height="33" fill="#fff" stroke="#000" stroke-width="1"/>
<rect x="1183" y="438" width="1" height="49" fill="#000"/>
<rect x="1181.5" y="438.5" width="4" height="32" fill="#fff" stroke="#000" stroke-width="1"/>
<rect x="1191" y="434" width="1" height="35" fill="#000"/>
<rect x="1189" y="434" width="5" height="13" fill="#000"/>
<rect x="1199" y="442" width="1" height="35" fill="#000"/>
<rect x="1197.5" y="444.5" width="4" height="4" fill="#fff" stroke="#000" stroke-width="1"/>
<rect x="1207" y="363" width="1" height="53" fill="#000"/>
<rect x="1205.5" y="363.5" width="4" height="42" fill="#fff" stroke="#000" stroke-width="1"/>
<rect x="1215" y="313" width="1" height="44" fill="#000"/>
<rect x="1213.5" y="343.5" width="4" height="13" fill="#fff" stroke="#000" stroke-width="1"/>
<rect x="1223" y="349" width="1" height="31" fill="#000"/>
<rect x="1221.5" y="369.5" width="4" height="10" fill="#fff" stroke="#000" stroke-width="1"/>
<rect x="1231" y="351" width="1" height="31" fill="#000"/>
<rect x="1229.5" y="359.5" width="4" height="11" fill="#fff" stroke="#000" stroke-width="1"/>
<rect x="1239" y="364" width="1" height="52" fill="#000"/>
<rect x="1237.5" y="385.5" width="4" height="27" fill="#fff" stroke="#000" stroke-width="1"/>
<rect x="1247" y="371" width="1" height="21" fill="#000"/>
<rect x="1245" y="386" width="5" height="2" fill="#000"/>
<rect x="1255" y="308" width="1" height="50" fill="#000"/>
<rect x="1253.5" y="317.5" width="4" height="40" fill="#fff" stroke="#000" stroke-width="1"/>
<rect x="1263" y="309" width="1" height="18" fill="#000"/>
<rect x="1261.5" y="313.5" width="4" height="4" fill="#fff" stroke="#000" stroke-width="1"/>
<rect x="1271" y="287" width="1" height="31" fill="#000"/>
<rect x="1269.5" y="290.5" width="4" height="12" fill="#fff" stroke="#000" stroke-width="1"/>
<rect x="1279" y="273" width="1" height="17" fill="#000"/>
<rect x="1277.5" y="281.5" width="4" height="7" fill="#fff" stroke="#000" stroke-width="1"/>
<rect x="1287" y="269" width="1" height="31" fill="#000"/>
<rect x="1285" y="275" width="5" height="18" fill="#000"/>
<rect x="1295" y="294" width="1" height="16" fill="#000"/>
<rect x="1293" y="296" width="5" height="1" fill="#000"/>
<rect x="1303" y="259" width="1" height="41" fill="#000"/>
<rect x="1301.5" y="271.5" width="4" height="22" fill="#fff" stroke="#000" stroke-width="1"/>
<rect x="1311" y="268" width="1" height="22" fill="#000"/>
<rect x="1309" y="271" width="5" height="13" fill="#000"/>
<rect x="1319" y="253" width="1" height="47" fill="#000"/>
<rect x="1317.5" y="262.5" width="4" height="36" fill="#fff" stroke="#000" stroke-width="1"/>
<rect x="1327" y="243" width="1" height="26" fill="#000"/>
<rect x="1325" y="262" width="5" height="7" fill="#000"/>
<rect x="1335" y="291" width="1" height="39" fill="#000"/>
<rect x="1333" y="291" width="5" height="33" fill="#000"/>
<rect x="1343" y="318" width="1" height="15" fill="#000"/>
<rect x="1341" y="327" width="5" height="2" fill="#000"/>
</g>
<path d="M1352.5 26 L1362 26 L1357.2 31 Z" fill="#c0c0c0"/>
<rect x="1255" y="300" width="124" height="8" fill="#00ff00" shape-rendering="crispEdges"/>
<line x1="1159" y1="555" x2="1215.5" y2="330" stroke="#ff0000" stroke-width="3.8" stroke-linecap="butt"/><line x1="1215.5" y1="330" x2="1208.5" y2="337.8" stroke="#ff0000" stroke-width="3.8" stroke-linecap="butt"/><line x1="1215.5" y1="330" x2="1218.0" y2="340.2" stroke="#ff0000" stroke-width="3.8" stroke-linecap="butt"/><circle cx="1215.5" cy="330" r="2.5" fill="#ff0000"/>
<line x1="1215.5" y1="330" x2="1236" y2="424" stroke="#ff0000" stroke-width="3.8" stroke-linecap="butt"/><line x1="1236" y1="424" x2="1238.8" y2="413.9" stroke="#ff0000" stroke-width="3.8" stroke-linecap="butt"/><line x1="1236" y1="424" x2="1229.2" y2="416.0" stroke="#ff0000" stroke-width="3.8" stroke-linecap="butt"/><circle cx="1236" cy="424" r="2.5" fill="#ff0000"/>
<line x1="1236" y1="424" x2="1320.5" y2="245" stroke="#ff0000" stroke-width="3.8" stroke-linecap="butt"/><line x1="1320.5" y1="245" x2="1312.1" y2="251.3" stroke="#ff0000" stroke-width="3.8" stroke-linecap="butt"/><line x1="1320.5" y1="245" x2="1321.0" y2="255.5" stroke="#ff0000" stroke-width="3.8" stroke-linecap="butt"/><circle cx="1320.5" cy="245" r="2.5" fill="#ff0000"/>
<line x1="1320.5" y1="245" x2="1346" y2="348" stroke="#ff0000" stroke-width="3.8" stroke-linecap="butt"/><line x1="1346" y1="348" x2="1348.6" y2="337.8" stroke="#ff0000" stroke-width="3.8" stroke-linecap="butt"/><line x1="1346" y1="348" x2="1339.0" y2="340.2" stroke="#ff0000" stroke-width="3.8" stroke-linecap="butt"/><circle cx="1346" cy="348" r="2.5" fill="#ff0000"/>
<rect x="1448" y="306" width="10" height="1" fill="#ff0000" shape-rendering="crispEdges"/>
<rect x="1455.5" y="304.5" width="3" height="3" fill="#fff" stroke="#ff0000" shape-rendering="crispEdges"/>
<rect x="1458.5" y="294.5" width="73" height="24" fill="#fff" stroke="#ff0000" shape-rendering="crispEdges"/>
<text x="1460" y="314.5" font-size="20.5" fill="#ff0000" textLength="70" lengthAdjust="spacingAndGlyphs">27602.6</text>
<text x="1424" y="349" font-size="32" fill="#000" stroke="#000" stroke-width="0.5" textLength="160" lengthAdjust="spacingAndGlyphs">多空转折点</text>
<text x="1423" y="348" font-size="32" fill="#00ff00" stroke="#00ff00" stroke-width="0.5" textLength="160" lengthAdjust="spacingAndGlyphs">多空转折点</text>
<path d="M2 36 L5.5 32 L9 36 Z" fill="#000"/>
<text x="14.3" y="36.6" font-size="9.6" fill="#000" textLength="40.5" lengthAdjust="spacingAndGlyphs">HK50-,H4</text>
<text x="61.8" y="36.6" font-size="9.6" fill="#000" textLength="33" lengthAdjust="spacingAndGlyphs">27471.0</text>
<text x="97.1" y="36.6" font-size="9.6" fill="#000" textLength="33" lengthAdjust="spacingAndGlyphs">27529.5</text>
<text x="132.8" y="36.6" font-size="9.6" fill="#000" textLength="33" lengthAdjust="spacingAndGlyphs">27430.0</text>
<text x="169.1" y="36.6" font-size="9.6" fill="#000" textLength="33" lengthAdjust="spacingAndGlyphs">27463.0</text>
</g>
<defs><linearGradient id="gtab" x1="0" y1="0" x2="0" y2="1"><stop offset="0" stop-color="#fa5050"/><stop offset="1" stop-color="#dc2828"/></linearGradient>
<linearGradient id="gbot" x1="0" y1="0" x2="0" y2="1"><stop offset="0" stop-color="#e03030"/><stop offset="1" stop-color="#b00008"/></linearGradient>
<linearGradient id="gbtn" x1="0" y1="0" x2="0" y2="1"><stop offset="0" stop-color="#f0f0f0"/><stop offset="0.4" stop-color="#e6e6e6"/><stop offset="0.45" stop-color="#d8d8d8"/><stop offset="1" stop-color="#d0d0d0"/></linearGradient></defs>
<g shape-rendering="crispEdges">
<rect x="2" y="45" width="52" height="25" fill="url(#gtab)"/>
<rect x="2" y="69" width="109" height="40" fill="url(#gbot)"/>
<rect x="169" y="45" width="52" height="25" fill="url(#gtab)"/>
<rect x="113" y="69" width="108" height="40" fill="url(#gbot)"/>
<rect x="2" y="45" width="52" height="1" fill="#c01010"/>
<rect x="169" y="45" width="52" height="1" fill="#c01010"/>
<rect x="6" y="68" width="44" height="1" fill="#800000"/><rect x="6" y="69" width="44" height="1" fill="#f87070"/>
<rect x="173" y="68" width="44" height="1" fill="#800000"/><rect x="173" y="69" width="44" height="1" fill="#f87070"/>
<rect x="56.5" y="45.5" width="110" height="21" fill="#fff" stroke="#a0a4ac"/>
<rect x="57.5" y="46.5" width="19" height="19" fill="url(#gbtn)" stroke="#c8c8c8"/>
<rect x="146.5" y="46.5" width="19" height="19" fill="url(#gbtn)" stroke="#c8c8c8"/>
<rect x="77" y="46" width="1" height="20" fill="#a0a4ac"/><rect x="145" y="46" width="1" height="20" fill="#a0a4ac"/>
</g>
<path d="M64 54.5h5l-2.5 2.5z" fill="#4060c0"/>
<path d="M153 57h5l-2.5-2.5z" fill="#4060c0"/>
<text x="142" y="60" font-size="12" fill="#000" text-anchor="end">1.00</text>
<text x="14" y="61" font-size="11.5" fill="#fff" textLength="26" lengthAdjust="spacingAndGlyphs">SELL</text>
<text x="183" y="61" font-size="11.5" fill="#fff" textLength="22.7" lengthAdjust="spacingAndGlyphs">BUY</text>
<text x="18" y="100" font-size="12.5" font-weight="bold" fill="#fff">27461</text>
<rect x="57.5" y="96" width="4" height="4" rx="1" fill="#fff"/>
<text x="65.2" y="100" font-size="35" fill="#fff" textLength="14.2" lengthAdjust="spacingAndGlyphs">5</text>
<text x="128" y="100" font-size="12.5" font-weight="bold" fill="#fff">27474</text>
<rect x="168.5" y="96" width="4" height="4" rx="1" fill="#fff"/>
<text x="176" y="100" font-size="35" fill="#fff" textLength="14.2" lengthAdjust="spacingAndGlyphs">5</text>
<g clip-path="url(#cmacd)">
<g shape-rendering="crispEdges">
<rect x="7" y="639" width="1" height="11" fill="#c0c0c0"/>
<rect x="15" y="637" width="1" height="13" fill="#c0c0c0"/>
<rect x="23" y="634" width="1" height="16" fill="#c0c0c0"/>
<rect x="31" y="628" width="1" height="22" fill="#c0c0c0"/>
<rect x="39" y="624" width="1" height="26" fill="#c0c0c0"/>
<rect x="47" y="622" width="1" height="28" fill="#c0c0c0"/>
<rect x="55" y="623" width="1" height="27" fill="#c0c0c0"/>
<rect x="63" y="622" width="1" height="28" fill="#c0c0c0"/>
<rect x="71" y="623" width="1" height="27" fill="#c0c0c0"/>
<rect x="79" y="623" width="1" height="27" fill="#c0c0c0"/>
<rect x="87" y="624" width="1" height="26" fill="#c0c0c0"/>
<rect x="95" y="627" width="1" height="23" fill="#c0c0c0"/>
<rect x="103" y="630" width="1" height="20" fill="#c0c0c0"/>
<rect x="111" y="631" width="1" height="19" fill="#c0c0c0"/>
<rect x="119" y="631" width="1" height="19" fill="#c0c0c0"/>
<rect x="127" y="631" width="1" height="19" fill="#c0c0c0"/>
<rect x="135" y="633" width="1" height="17" fill="#c0c0c0"/>
<rect x="143" y="628" width="1" height="22" fill="#c0c0c0"/>
<rect x="151" y="628" width="1" height="22" fill="#c0c0c0"/>
<rect x="159" y="629" width="1" height="21" fill="#c0c0c0"/>
<rect x="167" y="631" width="1" height="19" fill="#c0c0c0"/>
<rect x="175" y="633" width="1" height="17" fill="#c0c0c0"/>
<rect x="183" y="635" width="1" height="15" fill="#c0c0c0"/>
<rect x="191" y="632" width="1" height="18" fill="#c0c0c0"/>
<rect x="199" y="631" width="1" height="19" fill="#c0c0c0"/>
<rect x="207" y="630" width="1" height="20" fill="#c0c0c0"/>
<rect x="215" y="628" width="1" height="22" fill="#c0c0c0"/>
<rect x="223" y="622" width="1" height="28" fill="#c0c0c0"/>
<rect x="231" y="616" width="1" height="34" fill="#c0c0c0"/>
<rect x="239" y="611" width="1" height="39" fill="#c0c0c0"/>
<rect x="247" y="607" width="1" height="43" fill="#c0c0c0"/>
<rect x="255" y="605" width="1" height="45" fill="#c0c0c0"/>
<rect x="263" y="603" width="1" height="47" fill="#c0c0c0"/>
<rect x="271" y="604" width="1" height="46" fill="#c0c0c0"/>
<rect x="279" y="602" width="1" height="48" fill="#c0c0c0"/>
<rect x="287" y="602" width="1" height="48" fill="#c0c0c0"/>
<rect x="295" y="605" width="1" height="45" fill="#c0c0c0"/>
<rect x="303" y="614" width="1" height="36" fill="#c0c0c0"/>
<rect x="311" y="622" width="1" height="28" fill="#c0c0c0"/>
<rect x="319" y="630" width="1" height="20" fill="#c0c0c0"/>
<rect x="327" y="635" width="1" height="15" fill="#c0c0c0"/>
<rect x="335" y="645" width="1" height="5" fill="#c0c0c0"/>
<rect x="343" y="650" width="1" height="3" fill="#c0c0c0"/>
<rect x="351" y="650" width="1" height="13" fill="#c0c0c0"/>
<rect x="359" y="650" width="1" height="19" fill="#c0c0c0"/>
<rect x="367" y="650" width="1" height="24" fill="#c0c0c0"/>
<rect x="375" y="650" width="1" height="28" fill="#c0c0c0"/>
<rect x="383" y="650" width="1" height="26" fill="#c0c0c0"/>
<rect x="391" y="650" width="1" height="25" fill="#c0c0c0"/>
<rect x="399" y="650" width="1" height="20" fill="#c0c0c0"/>
<rect x="407" y="650" width="1" height="13" fill="#c0c0c0"/>
<rect x="415" y="650" width="1" height="12" fill="#c0c0c0"/>
<rect x="423" y="650" width="1" height="11" fill="#c0c0c0"/>
<rect x="431" y="650" width="1" height="13" fill="#c0c0c0"/>
<rect x="439" y="650" width="1" height="16" fill="#c0c0c0"/>
<rect x="447" y="650" width="1" height="17" fill="#c0c0c0"/>
<rect x="455" y="650" width="1" height="16" fill="#c0c0c0"/>
<rect x="463" y="650" width="1" height="10" fill="#c0c0c0"/>
<rect x="471" y="650" width="1" height="5" fill="#c0c0c0"/>
<rect x="479" y="650" width="1" height="1" fill="#c0c0c0"/>
<rect x="487" y="650" width="1" height="1" fill="#c0c0c0"/>
<rect x="495" y="650" width="1" height="1" fill="#c0c0c0"/>
<rect x="503" y="647" width="1" height="3" fill="#c0c0c0"/>
<rect x="511" y="646" width="1" height="4" fill="#c0c0c0"/>
<rect x="519" y="647" width="1" height="3" fill="#c0c0c0"/>
<rect x="527" y="650" width="1" height="1" fill="#c0c0c0"/>
<rect x="535" y="650" width="1" height="8" fill="#c0c0c0"/>
<rect x="543" y="650" width="1" height="11" fill="#c0c0c0"/>
<rect x="551" y="650" width="1" height="12" fill="#c0c0c0"/>
<rect x="559" y="650" width="1" height="14" fill="#c0c0c0"/>
<rect x="567" y="650" width="1" height="16" fill="#c0c0c0"/>
<rect x="575" y="650" width="1" height="20" fill="#c0c0c0"/>
<rect x="583" y="650" width="1" height="25" fill="#c0c0c0"/>
<rect x="591" y="650" width="1" height="26" fill="#c0c0c0"/>
<rect x="599" y="650" width="1" height="26" fill="#c0c0c0"/>
<rect x="607" y="650" width="1" height="25" fill="#c0c0c0"/>
<rect x="615" y="650" width="1" height="22" fill="#c0c0c0"/>
<rect x="623" y="650" width="1" height="17" fill="#c0c0c0"/>
<rect x="631" y="650" width="1" height="16" fill="#c0c0c0"/>
<rect x="639" y="650" width="1" height="13" fill="#c0c0c0"/>
<rect x="647" y="650" width="1" height="12" fill="#c0c0c0"/>
<rect x="655" y="650" width="1" height="11" fill="#c0c0c0"/>
<rect x="663" y="650" width="1" height="7" fill="#c0c0c0"/>
<rect x="671" y="650" width="1" height="1" fill="#c0c0c0"/>
<rect x="679" y="645" width="1" height="5" fill="#c0c0c0"/>
<rect x="687" y="634" width="1" height="16" fill="#c0c0c0"/>
<rect x="695" y="623" width="1" height="27" fill="#c0c0c0"/>
<rect x="703" y="617" width="1" height="33" fill="#c0c0c0"/>
<rect x="711" y="612" width="1" height="38" fill="#c0c0c0"/>
<rect x="719" y="606" width="1" height="44" fill="#c0c0c0"/>
<rect x="727" y="602" width="1" height="48" fill="#c0c0c0"/>
<rect x="735" y="598" width="1" height="52" fill="#c0c0c0"/>
<rect x="743" y="596" width="1" height="54" fill="#c0c0c0"/>
<rect x="751" y="596" width="1" height="54" fill="#c0c0c0"/>
<rect x="759" y="597" width="1" height="53" fill="#c0c0c0"/>
<rect x="767" y="596" width="1" height="54" fill="#c0c0c0"/>
<rect x="775" y="596" width="1" height="54" fill="#c0c0c0"/>
<rect x="783" y="596" width="1" height="54" fill="#c0c0c0"/>
<rect x="791" y="599" width="1" height="51" fill="#c0c0c0"/>
<rect x="799" y="598" width="1" height="52" fill="#c0c0c0"/>
<rect x="807" y="597" width="1" height="53" fill="#c0c0c0"/>
<rect x="815" y="596" width="1" height="54" fill="#c0c0c0"/>
<rect x="823" y="592" width="1" height="58" fill="#c0c0c0"/>
<rect x="831" y="591" width="1" height="59" fill="#c0c0c0"/>
<rect x="839" y="593" width="1" height="57" fill="#c0c0c0"/>
<rect x="847" y="591" width="1" height="59" fill="#c0c0c0"/>
<rect x="855" y="590" width="1" height="60" fill="#c0c0c0"/>
<rect x="863" y="592" width="1" height="58" fill="#c0c0c0"/>
<rect x="871" y="593" width="1" height="57" fill="#c0c0c0"/>
<rect x="879" y="597" width="1" height="53" fill="#c0c0c0"/>
<rect x="887" y="603" width="1" height="47" fill="#c0c0c0"/>
<rect x="895" y="604" width="1" height="46" fill="#c0c0c0"/>
<rect x="903" y="607" width="1" height="43" fill="#c0c0c0"/>
<rect x="911" y="612" width="1" height="38" fill="#c0c0c0"/>
<rect x="919" y="618" width="1" height="32" fill="#c0c0c0"/>
<rect x="927" y="618" width="1" height="32" fill="#c0c0c0"/>
<rect x="935" y="616" width="1" height="34" fill="#c0c0c0"/>
<rect x="943" y="615" width="1" height="35" fill="#c0c0c0"/>
<rect x="951" y="614" width="1" height="36" fill="#c0c0c0"/>
<rect x="959" y="611" width="1" height="39" fill="#c0c0c0"/>
<rect x="967" y="608" width="1" height="42" fill="#c0c0c0"/>
<rect x="975" y="606" width="1" height="44" fill="#c0c0c0"/>
<rect x="983" y="607" width="1" height="43" fill="#c0c0c0"/>
<rect x="991" y="611" width="1" height="39" fill="#c0c0c0"/>
<rect x="999" y="612" width="1" height="38" fill="#c0c0c0"/>
<rect x="1007" y="613" width="1" height="37" fill="#c0c0c0"/>
<rect x="1015" y="613" width="1" height="37" fill="#c0c0c0"/>
<rect x="1023" y="614" width="1" height="36" fill="#c0c0c0"/>
<rect x="1031" y="613" width="1" height="37" fill="#c0c0c0"/>
<rect x="1039" y="614" width="1" height="36" fill="#c0c0c0"/>
<rect x="1047" y="618" width="1" height="32" fill="#c0c0c0"/>
<rect x="1055" y="629" width="1" height="21" fill="#c0c0c0"/>
<rect x="1063" y="640" width="1" height="10" fill="#c0c0c0"/>
<rect x="1071" y="646" width="1" height="4" fill="#c0c0c0"/>
<rect x="1079" y="649" width="1" height="1" fill="#c0c0c0"/>
<rect x="1087" y="650" width="1" height="6" fill="#c0c0c0"/>
<rect x="1095" y="650" width="1" height="13" fill="#c0c0c0"/>
<rect x="1103" y="650" width="1" height="17" fill="#c0c0c0"/>
<rect x="1111" y="650" width="1" height="28" fill="#c0c0c0"/>
<rect x="1119" y="650" width="1" height="39" fill="#c0c0c0"/>
<rect x="1127" y="650" width="1" height="52" fill="#c0c0c0"/>
<rect x="1135" y="650" width="1" height="66" fill="#c0c0c0"/>
<rect x="1143" y="650" width="1" height="74" fill="#c0c0c0"/>
<rect x="1151" y="650" width="1" height="82" fill="#c0c0c0"/>
<rect x="1159" y="650" width="1" height="88" fill="#c0c0c0"/>
<rect x="1167" y="650" width="1" height="92" fill="#c0c0c0"/>
<rect x="1175" y="650" width="1" height="89" fill="#c0c0c0"/>
<rect x="1183" y="650" width="1" height="84" fill="#c0c0c0"/>
<rect x="1191" y="650" width="1" height="77" fill="#c0c0c0"/>
<rect x="1199" y="650" width="1" height="74" fill="#c0c0c0"/>
<rect x="1207" y="650" width="1" height="63" fill="#c0c0c0"/>
<rect x="1215" y="650" width="1" height="52" fill="#c0c0c0"/>
<rect x="1223" y="650" width="1" height="44" fill="#c0c0c0"/>
<rect x="1231" y="650" width="1" height="38" fill="#c0c0c0"/>
<rect x="1239" y="650" width="1" height="34" fill="#c0c0c0"/>
<rect x="1247" y="650" width="1" height="30" fill="#c0c0c0"/>
<rect x="1255" y="650" width="1" height="23" fill="#c0c0c0"/>
<rect x="1263" y="650" width="1" height="15" fill="#c0c0c0"/>
<rect x="1271" y="650" width="1" height="8" fill="#c0c0c0"/>
<rect x="1279" y="650" width="1" height="1" fill="#c0c0c0"/>
<rect x="1287" y="647" width="1" height="3" fill="#c0c0c0"/>
<rect x="1295" y="644" width="1" height="6" fill="#c0c0c0"/>
<rect x="1303" y="640" width="1" height="10" fill="#c0c0c0"/>
<rect x="1311" y="638" width="1" height="12" fill="#c0c0c0"/>
<rect x="1319" y="634" width="1" height="16" fill="#c0c0c0"/>
<rect x="1327" y="632" width="1" height="18" fill="#c0c0c0"/>
<rect x="1335" y="635" width="1" height="15" fill="#c0c0c0"/>
<rect x="1343" y="638" width="1" height="12" fill="#c0c0c0"/>
</g>
<polyline points="0.5,662.1 10.1,659.0 19.7,653.4 31.7,645.8 43.7,638.5 55.8,632.5 67.8,628.5 79.8,625.3 96.6,623.7 106.2,624.1 120.6,626.1 135.0,627.7 156.7,629.4 180.7,630.6 199.9,631.3 216.7,630.6 231.1,628.9 240.7,626.5 252.8,621.0 264.8,615.7 276.8,610.9 288.8,606.8 300.8,605.6 312.8,606.8 324.8,610.9 336.8,618.1 346.4,624.1 360.9,637.3 375.3,650.6 384.9,659.0 400.5,667.9 412.5,670.5 424.5,670.5 436.5,669.8 448.5,668.1 463.0,665.5 479.8,662.1 496.6,659.4 511.0,655.4 525.4,652.2 537.4,651.0 549.4,652.5 568.7,656.6 578.3,660.2 587.9,665.0 604.7,669.3 616.7,672.2 640.7,672.9 652.8,669.8 669.6,665.5 684.0,659.0 696.0,650.6 710.4,641.0 722.4,631.3 736.8,620.5 751.3,609.7 765.7,602.5 780.1,598.9 789.7,597.2 802.9,596.8 824.5,596.3 848.5,594.4 863.0,592.7 889.4,592.7 901.4,595.8 915.8,599.9 930.2,605.9 944.6,610.2 963.9,612.6 987.9,612.6 997.5,610.7 1040.7,610.7 1047.9,611.9 1060.0,615.5 1076.8,622.7 1091.2,632.3 1103.6,642.8 1118.5,655.8 1136.5,677.4 1154.6,697.2 1172.6,713.4 1190.6,727.8 1201.4,731.8 1208.6,731.8 1226.6,723.3 1244.6,708.0 1262.7,693.6 1273.5,683.7 1291.5,669.3 1309.5,657.6 1320.3,648.6 1334.7,642.3 1341.9,641.0" fill="none" stroke="#ff0000" stroke-width="0.9" stroke-dasharray="3 3" shape-rendering="crispEdges"/>
<text x="3" y="592" font-size="9.5" fill="#000">MACD(12,26,9) 76.24 63.35</text>
</g>
<g clip-path="url(#crsi)">
<g shape-rendering="crispEdges">
<line x1="0" y1="788.5" x2="1618" y2="788.5" stroke="#c0c0c0" stroke-width="1" stroke-dasharray="3 3"/>
<line x1="0" y1="839.5" x2="1618" y2="839.5" stroke="#c0c0c0" stroke-width="1" stroke-dasharray="3 3"/>
<line x1="0" y1="900.5" x2="1618" y2="900.5" stroke="#c0c0c0" stroke-width="1" stroke-dasharray="3 3"/>
</g>
<polyline points="-0.5,821.4 7.5,823.4 15.5,822.2 23.5,818.1 31.5,808.9 39.5,808.5 47.5,812.5 55.5,823.4 63.5,818.1 71.5,824.5 79.5,820.9 87.5,821.4 95.5,839.0 103.5,837.3 111.5,829.8 119.5,827.0 127.5,829.8 135.5,830.5 143.5,815.7 151.5,821.4 159.5,827.4 167.5,831.8 175.5,834.2 183.5,840.6 191.5,822.6 199.5,822.6 207.5,818.5 215.5,814.9 223.5,802.5 231.5,799.3 239.5,796.9 247.5,801.0 255.5,799.8 263.5,798.8 271.5,809.4 279.5,802.9 287.5,809.4 295.5,813.3 303.5,847.4 311.5,849.8 319.5,851.7 327.5,849.8 335.5,865.4 343.5,867.8 351.5,873.3 359.5,870.9 367.5,867.8 375.5,871.4 383.5,851.7 391.5,848.6 399.5,836.6 407.5,831.8 415.5,839.0 423.5,843.1 431.5,856.5 439.5,856.5 447.5,851.0 455.5,847.4 463.5,828.6 471.5,831.8 479.5,833.4 487.5,833.4 495.5,832.5 503.5,831.8 511.5,834.2 519.5,839.7 527.5,860.6 535.5,862.5 543.5,853.4 551.5,854.6 559.5,855.1 567.5,858.9 575.5,869.0 583.5,870.9 591.5,864.7 599.5,858.9 607.5,846.9 615.5,842.6 623.5,842.6 631.5,842.6 639.5,842.6 647.5,848.6 655.5,839.0 663.5,833.4 671.5,814.9 679.5,817.8 687.5,799.8 695.5,796.9 703.5,804.9 711.5,804.9 719.5,798.1 727.5,799.8 735.5,798.8 743.5,796.9 751.5,809.4 759.5,807.7 767.5,803.7 775.5,803.7 783.5,805.3 791.5,810.1 799.5,807.0 807.5,795.7 815.5,795.7 823.5,790.9 831.5,798.1 839.5,807.7 847.5,799.8 855.5,798.8 863.5,801.7 871.5,810.1 879.5,819.7 887.5,828.2 895.5,817.8 903.5,820.9 911.5,834.2 919.5,839.0 927.5,822.2 935.5,817.8 943.5,816.6 951.5,815.7 959.5,807.7 967.5,806.5 975.5,807.7 983.5,817.3 991.5,823.4 999.5,821.4 1007.5,819.7 1015.5,815.7 1023.5,815.7 1031.5,808.9 1039.5,817.3 1047.5,833.4 1055.5,858.2 1063.5,865.4 1071.5,851.7 1079.5,846.9 1087.5,860.6 1095.5,861.8 1103.5,858.9 1111.5,874.6 1119.5,877.7 1127.5,884.4 1135.5,888.5 1143.5,883.1 1151.5,886.7 1159.5,884.9 1167.5,885.8 1175.5,868.7 1183.5,861.0 1191.5,861.9 1199.5,861.9 1207.5,841.1 1215.5,838.1 1223.5,843.8 1231.5,842.2 1239.5,846.7 1247.5,846.7 1255.5,832.1 1263.5,830.9 1271.5,826.7 1279.5,824.9 1287.5,827.8 1295.5,829.6 1303.5,824.0 1311.5,827.8 1319.5,823.1 1327.5,824.6 1335.5,840.4 1343.5,842.9" fill="none" stroke="#0584ff" stroke-width="0.9" shape-rendering="crispEdges"/>
<text x="3.6" y="765" font-size="9.8" fill="#000" textLength="67" lengthAdjust="spacingAndGlyphs">RSI(14) 48.7243</text>
</g>
<g shape-rendering="crispEdges"><rect x="1619" y="47" width="2" height="1" fill="#000"/><text x="1624" y="50.5" font-size="9.6" fill="#000" textLength="32.6" lengthAdjust="spacingAndGlyphs">29250.0</text><rect x="1619" y="80" width="2" height="1" fill="#000"/><text x="1624" y="83.5" font-size="9.6" fill="#000" textLength="32.6" lengthAdjust="spacingAndGlyphs">29040.0</text><rect x="1619" y="113" width="2" height="1" fill="#000"/><text x="1624" y="116.5" font-size="9.6" fill="#000" textLength="32.6" lengthAdjust="spacingAndGlyphs">28830.0</text><rect x="1619" y="146" width="2" height="1" fill="#000"/><text x="1624" y="149.5" font-size="9.6" fill="#000" textLength="32.6" lengthAdjust="spacingAndGlyphs">28620.0</text><rect x="1619" y="179" width="2" height="1" fill="#000"/><text x="1624" y="182.5" font-size="9.6" fill="#000" textLength="32.6" lengthAdjust="spacingAndGlyphs">28410.0</text><rect x="1619" y="212" width="2" height="1" fill="#000"/><text x="1624" y="215.5" font-size="9.6" fill="#000" textLength="32.6" lengthAdjust="spacingAndGlyphs">28200.0</text><rect x="1619" y="245" width="2" height="1" fill="#000"/><text x="1624" y="248.5" font-size="9.6" fill="#000" textLength="32.6" lengthAdjust="spacingAndGlyphs">27990.0</text><rect x="1619" y="278" width="2" height="1" fill="#000"/><text x="1624" y="281.5" font-size="9.6" fill="#000" textLength="32.6" lengthAdjust="spacingAndGlyphs">27780.0</text><rect x="1619" y="311" width="2" height="1" fill="#000"/><text x="1624" y="314.5" font-size="9.6" fill="#000" textLength="32.6" lengthAdjust="spacingAndGlyphs">27570.0</text><rect x="1619" y="344" width="2" height="1" fill="#000"/><text x="1624" y="347.5" font-size="9.6" fill="#000" textLength="32.6" lengthAdjust="spacingAndGlyphs">27360.0</text><rect x="1619" y="377" width="2" height="1" fill="#000"/><text x="1624" y="380.5" font-size="9.6" fill="#000" textLength="32.6" lengthAdjust="spacingAndGlyphs">27150.0</text><rect x="1619" y="410" width="2" height="1" fill="#000"/><text x="1624" y="413.5" font-size="9.6" fill="#000" textLength="32.6" lengthAdjust="spacingAndGlyphs">26940.0</text><rect x="1619" y="443" width="2" height="1" fill="#000"/><text x="1624" y="446.5" font-size="9.6" fill="#000" textLength="32.6" lengthAdjust="spacingAndGlyphs">26730.0</text><rect x="1619" y="476" width="2" height="1" fill="#000"/><text x="1624" y="479.5" font-size="9.6" fill="#000" textLength="32.6" lengthAdjust="spacingAndGlyphs">26520.0</text><rect x="1619" y="509" width="2" height="1" fill="#000"/><text x="1624" y="512.5" font-size="9.6" fill="#000" textLength="32.6" lengthAdjust="spacingAndGlyphs">26310.0</text><rect x="1619" y="542" width="2" height="1" fill="#000"/><text x="1624" y="545.5" font-size="9.6" fill="#000" textLength="32.6" lengthAdjust="spacingAndGlyphs">26106.0</text><rect x="1619" y="575" width="2" height="1" fill="#000"/><text x="1624" y="578.5" font-size="9.6" fill="#000" textLength="32.6" lengthAdjust="spacingAndGlyphs">25896.0</text><rect x="1620" y="259" width="41" height="11" fill="#ff0000"/><text x="1624" y="268" font-size="9.6" fill="#fff" textLength="32.6" lengthAdjust="spacingAndGlyphs">27862.6</text><rect x="1620" y="282" width="41" height="11" fill="#ff0000"/><text x="1624" y="291" font-size="9.6" fill="#fff" textLength="32.6" lengthAdjust="spacingAndGlyphs">27716.8</text><rect x="1620" y="300" width="41" height="11" fill="#32cd32"/><text x="1624" y="309" font-size="9.6" fill="#fff" textLength="32.6" lengthAdjust="spacingAndGlyphs">27602.6</text><rect x="1620" y="322" width="41" height="11" fill="#000000"/><text x="1624" y="331" font-size="9.6" fill="#fff" textLength="32.6" lengthAdjust="spacingAndGlyphs">27463.0</text><rect x="1620" y="348" width="41" height="11" fill="#0000ff"/><text x="1624" y="357" font-size="9.6" fill="#fff" textLength="32.6" lengthAdjust="spacingAndGlyphs">27298.3</text><rect x="1620" y="376" width="41" height="11" fill="#0000ff"/><text x="1624" y="385" font-size="9.6" fill="#fff" textLength="32.6" lengthAdjust="spacingAndGlyphs">27120.8</text><rect x="1619" y="582" width="2" height="1" fill="#000"/><text x="1622" y="590.5" font-size="9.6" fill="#000" textLength="27.3" lengthAdjust="spacingAndGlyphs">427.71</text><text x="1622" y="653" font-size="9.6" fill="#000" textLength="17.8" lengthAdjust="spacingAndGlyphs">0.00</text><rect x="1619" y="649" width="2" height="1" fill="#000"/><rect x="1619" y="749" width="2" height="1" fill="#000"/><text x="1622.2" y="747" font-size="9.6" fill="#000" textLength="30.4" lengthAdjust="spacingAndGlyphs">-636.02</text><rect x="1619" y="753" width="2" height="1" fill="#000"/><text x="1622" y="762.5" font-size="9.6" fill="#000" textLength="14.4" lengthAdjust="spacingAndGlyphs">100</text><text x="1621" y="791.5" font-size="9.6" fill="#000">80</text><text x="1621" y="842.5" font-size="9.6" fill="#000">50</text><text x="1621" y="903.5" font-size="9.6" fill="#000">15</text><text x="1621.5" y="923" font-size="9.6" fill="#000">0</text><rect x="1619" y="925" width="2" height="1" fill="#000"/></g>
<g><text x="-2.5" y="939" font-size="9.3" fill="#000">15 Oct 2019</text><rect x="63" y="927" width="1" height="3" fill="#000"/><text x="62" y="939" font-size="9.3" fill="#000">21 Oct 01:15</text><rect x="127" y="927" width="1" height="3" fill="#000"/><text x="126" y="939" font-size="9.3" fill="#000">25 Oct 01:15</text><rect x="191" y="927" width="1" height="3" fill="#000"/><text x="190" y="939" font-size="9.3" fill="#000">31 Oct 01:15</text><rect x="255" y="927" width="1" height="3" fill="#000"/><text x="254" y="939" font-size="9.3" fill="#000">6 Nov 01:15</text><rect x="319" y="927" width="1" height="3" fill="#000"/><text x="318" y="939" font-size="9.3" fill="#000">12 Nov 01:15</text><rect x="383" y="927" width="1" height="3" fill="#000"/><text x="382" y="939" font-size="9.3" fill="#000">18 Nov 01:15</text><rect x="447" y="927" width="1" height="3" fill="#000"/><text x="446" y="939" font-size="9.3" fill="#000">22 Nov 01:15</text><rect x="511" y="927" width="1" height="3" fill="#000"/><text x="510" y="939" font-size="9.3" fill="#000">28 Nov 01:15</text><rect x="575" y="927" width="1" height="3" fill="#000"/><text x="574" y="939" font-size="9.3" fill="#000">4 Dec 01:15</text><rect x="639" y="927" width="1" height="3" fill="#000"/><text x="638" y="939" font-size="9.3" fill="#000">10 Dec 01:15</text><rect x="703" y="927" width="1" height="3" fill="#000"/><text x="702" y="939" font-size="9.3" fill="#000">16 Dec 01:15</text><rect x="767" y="927" width="1" height="3" fill="#000"/><text x="766" y="939" font-size="9.3" fill="#000">20 Dec 01:15</text><rect x="831" y="927" width="1" height="3" fill="#000"/><text x="830" y="939" font-size="9.3" fill="#000">30 Dec 05:00</text><rect x="895" y="927" width="1" height="3" fill="#000"/><text x="894" y="939" font-size="9.3" fill="#000">7 Jan 01:15</text><rect x="959" y="927" width="1" height="3" fill="#000"/><text x="958" y="939" font-size="9.3" fill="#000">13 Jan 01:15</text><rect x="1023" y="927" width="1" height="3" fill="#000"/><text x="1022" y="939" font-size="9.3" fill="#000">17 Jan 01:15</text><rect x="1087" y="927" width="1" height="3" fill="#000"/><text x="1086" y="939" font-size="9.3" fill="#000">23 Jan 01:15</text><rect x="1151" y="927" width="1" height="3" fill="#000"/><text x="1150" y="939" font-size="9.3" fill="#000">31 Jan 05:00</text><rect x="1215" y="927" width="1" height="3" fill="#000"/><text x="1214" y="939" font-size="9.3" fill="#000">6 Feb 05:00</text><rect x="1279" y="927" width="1" height="3" fill="#000"/><text x="1278" y="939" font-size="9.3" fill="#000">12 Feb 05:00</text><rect x="1343" y="927" width="1" height="3" fill="#000"/><text x="1342" y="939" font-size="9.3" fill="#000">18 Feb 05:00</text></g>
</svg></body></html>
